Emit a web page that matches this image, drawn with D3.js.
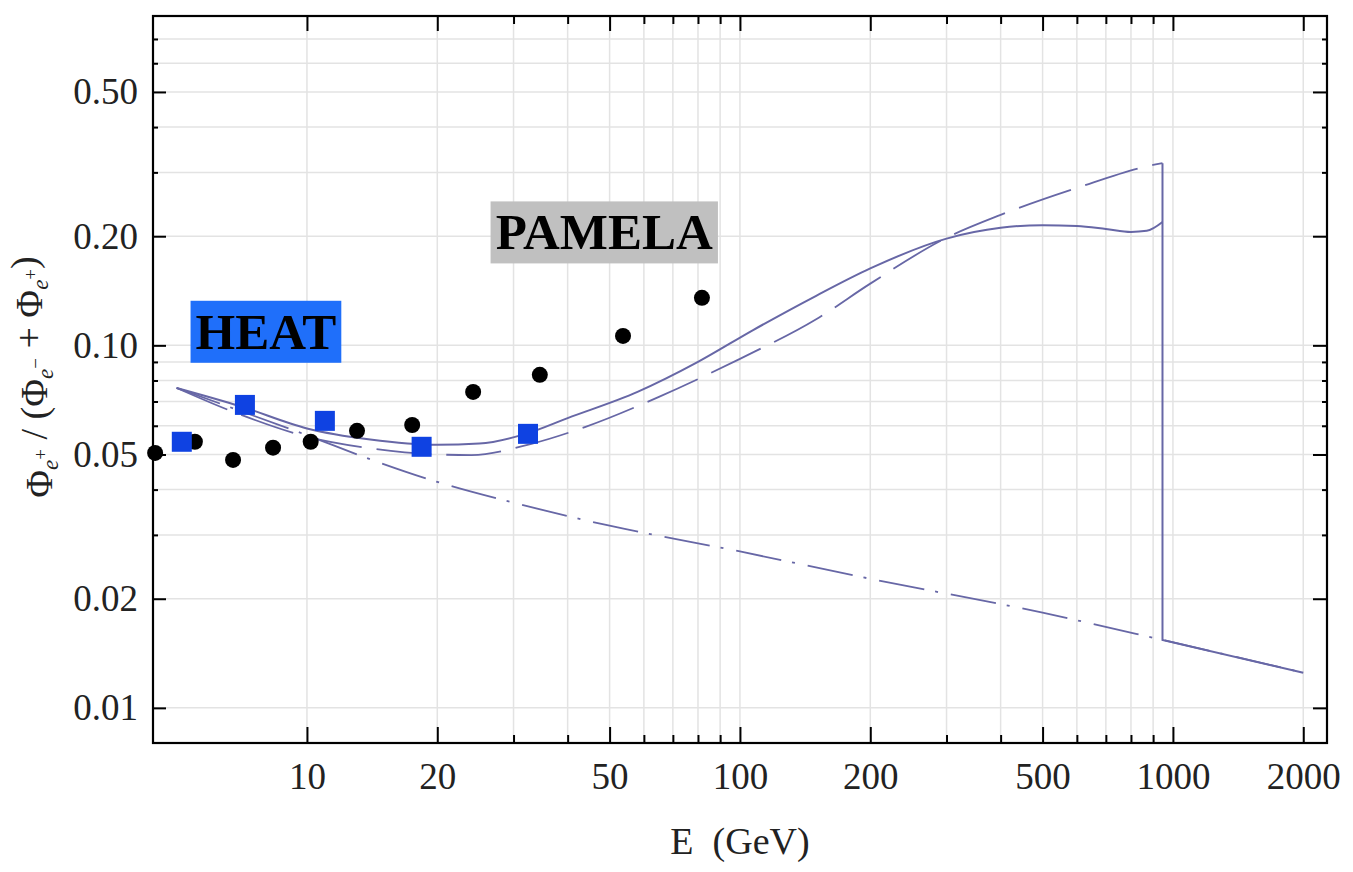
<!DOCTYPE html>
<html>
<head>
<meta charset="utf-8">
<script src="https://cdn.jsdelivr.net/npm/d3@7"></script>
<style>
  body { margin: 0; background: #fff; }
  text { font-family: "Liberation Serif", "DejaVu Serif", serif; }
</style>
</head>
<body>
<svg id="chart" width="1353" height="872"></svg>
<script>
// tick values
const xMajor = [10, 20, 50, 100, 200, 500, 1000, 2000];
const xMinor = [30, 40, 60, 70, 80, 90, 300, 400, 600, 700, 800, 900];
const yMajor = [0.01, 0.02, 0.05, 0.1, 0.2, 0.5];
const yMinor = [0.03, 0.04, 0.06, 0.07, 0.08, 0.09, 0.3, 0.4, 0.6, 0.7];

// PAMELA data (circles)
const pamelaE = [4.46, 5.51, 6.75, 8.35, 10.2, 13.05, 17.5, 24.2, 34.5, 53.7, 81.7];
const pamelaV = [0.0505, 0.0542, 0.0483, 0.0522, 0.0542, 0.0581, 0.0603, 0.0744, 0.0829, 0.1062, 0.1352];

// HEAT data (squares)
const heatE = [5.14, 7.19, 11.0, 18.4, 32.4];
const heatV = [0.0542, 0.0685, 0.0619, 0.0525, 0.0570];

// secondary background (dash-dot)
const bgE = [5, 7, 10, 14, 20, 30, 50, 100, 200, 500, 946, 2000];
const bgV = [0.0763, 0.0660, 0.0565, 0.0485, 0.0420, 0.0368, 0.0318, 0.0270, 0.0227, 0.0183, 0.0154, 0.0125];

// model 1 (solid)
const solidE = [5, 7, 10, 14, 20, 25, 32, 40, 58, 80, 107, 150, 200, 300, 400, 500, 600, 700, 800, 870, 946];
const solidV = [0.0763, 0.0680, 0.0590, 0.0550, 0.0532, 0.0536, 0.0570, 0.0630, 0.0744, 0.0900, 0.1100, 0.1370, 0.1630, 0.1970, 0.2110, 0.2145, 0.2135, 0.2095, 0.2055, 0.2070, 0.2190];

// model 2 (long dashes)
const dashE = [5, 7, 10, 14, 20, 24, 33, 44, 65, 100, 150, 200, 300, 400, 600, 900, 946];
const dashV = [0.0763, 0.0645, 0.0560, 0.0520, 0.0500, 0.0498, 0.0535, 0.0596, 0.0721, 0.0918, 0.1180, 0.1480, 0.1980, 0.2290, 0.2718, 0.3145, 0.3180];

const cutoffE = 946;

const margin = { left: 153, top: 16, right: 26, bottom: 129 };
const W = 1353, H = 872;
const width = W - margin.left - margin.right;
const height = H - margin.top - margin.bottom;

const svg = d3.select('#chart');
const g = svg.append('g').attr('transform', `translate(${margin.left},${margin.top})`);

const x = d3.scaleLog().domain([4.41, 2269]).range([0, width]);
const y = d3.scaleLog().domain([0.0080, 0.81]).range([height, 0]);

const lineColor = '#6767a6';

// grid
g.append('g').selectAll('line')
  .data(xMajor.concat(xMinor))
  .enter().append('line')
  .attr('x1', d => x(d)).attr('x2', d => x(d))
  .attr('y1', 0).attr('y2', height)
  .attr('stroke', '#e3e3e3').attr('stroke-width', 1.5);

g.append('g').selectAll('line')
  .data(yMajor.concat(yMinor))
  .enter().append('line')
  .attr('y1', d => y(d)).attr('y2', d => y(d))
  .attr('x1', 0).attr('x2', width)
  .attr('stroke', '#e3e3e3').attr('stroke-width', 1.5);

// curves
const smooth = d3.line().x(d => x(d[0])).y(d => y(d[1])).curve(d3.curveMonotoneX);
const straight = d3.line().x(d => x(d[0])).y(d => y(d[1]));

const bgPts = bgE.map((e, i) => [e, bgV[i]]);
const tailPts = bgPts.filter(p => p[0] >= cutoffE);
const bgCut = bgV[bgE.indexOf(cutoffE)];

g.append('path')
  .attr('d', smooth(bgPts))
  .attr('fill', 'none').attr('stroke', lineColor).attr('stroke-width', 1.8)
  .attr('stroke-dasharray', '46,11,3,13');

const solidPts = solidE.map((e, i) => [e, solidV[i]]);
g.append('path')
  .attr('d', smooth(solidPts))
  .attr('fill', 'none').attr('stroke', lineColor).attr('stroke-width', 2);

const dashPts = dashE.map((e, i) => [e, dashV[i]]);
g.append('path')
  .attr('d', smooth(dashPts))
  .attr('fill', 'none').attr('stroke', lineColor).attr('stroke-width', 1.8)
  .attr('stroke-dasharray', '55,15');

// cutoff drop and common tail
g.append('path')
  .attr('d', straight([[cutoffE, dashV[dashV.length - 1]], [cutoffE, bgCut]].concat(tailPts.slice(1))))
  .attr('fill', 'none').attr('stroke', lineColor).attr('stroke-width', 2);

// points
g.append('g').selectAll('circle')
  .data(pamelaE.map((e, i) => [e, pamelaV[i]]))
  .enter().append('circle')
  .attr('cx', d => x(d[0])).attr('cy', d => y(d[1]))
  .attr('r', 8).attr('fill', '#000');

g.append('g').selectAll('rect')
  .data(heatE.map((e, i) => [e, heatV[i]]))
  .enter().append('rect')
  .attr('x', d => x(d[0]) - 10).attr('y', d => y(d[1]) - 10)
  .attr('width', 20).attr('height', 20)
  .attr('fill', '#0f42e2');

// experiment labels
const labels = [
  { text: 'HEAT', e: 8.04, v: 0.109, bg: '#1f6ffa' },
  { text: 'PAMELA', e: 48.6, v: 0.2049, bg: '#c0c0c0' }
];
labels.forEach(l => {
  const cx = x(l.e), cy = y(l.v);
  const lg = g.append('g');
  const r = lg.append('rect');
  const t = lg.append('text')
    .attr('x', cx).attr('y', cy + 17)
    .attr('text-anchor', 'middle')
    .attr('font-weight', 'bold')
    .attr('font-size', 51)
    .attr('fill', '#000')
    .text(l.text);
  const bw = t.node().getBBox().width + 10;
  r.attr('x', cx - bw / 2).attr('y', cy - 31)
    .attr('width', bw).attr('height', 62)
    .attr('fill', l.bg);
});

// axes (ticks pointing inward)
function styleAxis(sel) {
  sel.select('.domain').remove();
  sel.selectAll('line').attr('stroke', '#000').attr('stroke-width', 2);
  sel.selectAll('text').attr('font-size', 37).attr('fill', '#222')
    .attr('font-family', '"Liberation Serif", serif');
}

g.append('g').attr('transform', `translate(0,${height})`)
  .call(d3.axisBottom(x).tickValues(xMajor).tickSize(-16).tickPadding(20).tickFormat(d3.format('d')))
  .call(styleAxis);
g.append('g').attr('transform', `translate(0,${height})`)
  .call(d3.axisBottom(x).tickValues(xMinor).tickSize(-8).tickFormat(''))
  .call(styleAxis);
g.append('g')
  .call(d3.axisTop(x).tickValues(xMajor).tickSize(-15).tickFormat(''))
  .call(styleAxis);
g.append('g')
  .call(d3.axisTop(x).tickValues(xMinor).tickSize(-8).tickFormat(''))
  .call(styleAxis);

g.append('g')
  .call(d3.axisLeft(y).tickValues(yMajor).tickSize(-13).tickPadding(15).tickFormat(d3.format('.2f')))
  .call(styleAxis);
g.append('g')
  .call(d3.axisLeft(y).tickValues(yMinor).tickSize(-5).tickFormat(''))
  .call(styleAxis);
g.append('g').attr('transform', `translate(${width},0)`)
  .call(d3.axisRight(y).tickValues(yMajor).tickSize(-14).tickFormat(''))
  .call(styleAxis);
g.append('g').attr('transform', `translate(${width},0)`)
  .call(d3.axisRight(y).tickValues(yMinor).tickSize(-5).tickFormat(''))
  .call(styleAxis);

// frame
g.append('rect')
  .attr('width', width).attr('height', height)
  .attr('fill', 'none').attr('stroke', '#000').attr('stroke-width', 2.2);

// axis titles
svg.append('text')
  .attr('x', 740).attr('y', 854)
  .attr('text-anchor', 'middle')
  .attr('font-size', 38).attr('fill', '#222')
  .attr('xml:space', 'preserve')
  .text('E  (GeV)');

const yt = svg.append('text')
  .attr('transform', 'translate(52,377) rotate(-90)')
  .attr('text-anchor', 'middle')
  .attr('font-size', 38).attr('fill', '#222')
  .attr('xml:space', 'preserve');

function phi(sign) {
  yt.append('tspan').text('Φ');
  yt.append('tspan').attr('font-size', 23).attr('font-style', 'italic').attr('dy', 6).text('e');
  yt.append('tspan').attr('font-size', 19).attr('dy', -11).text(sign);
  yt.append('tspan').attr('dy', 5).text('');
}
phi('+');
yt.append('tspan').text(' / (');
phi('−');
yt.append('tspan').text(' + ');
phi('+');
yt.append('tspan').text(')');
</script>
</body>
</html>
